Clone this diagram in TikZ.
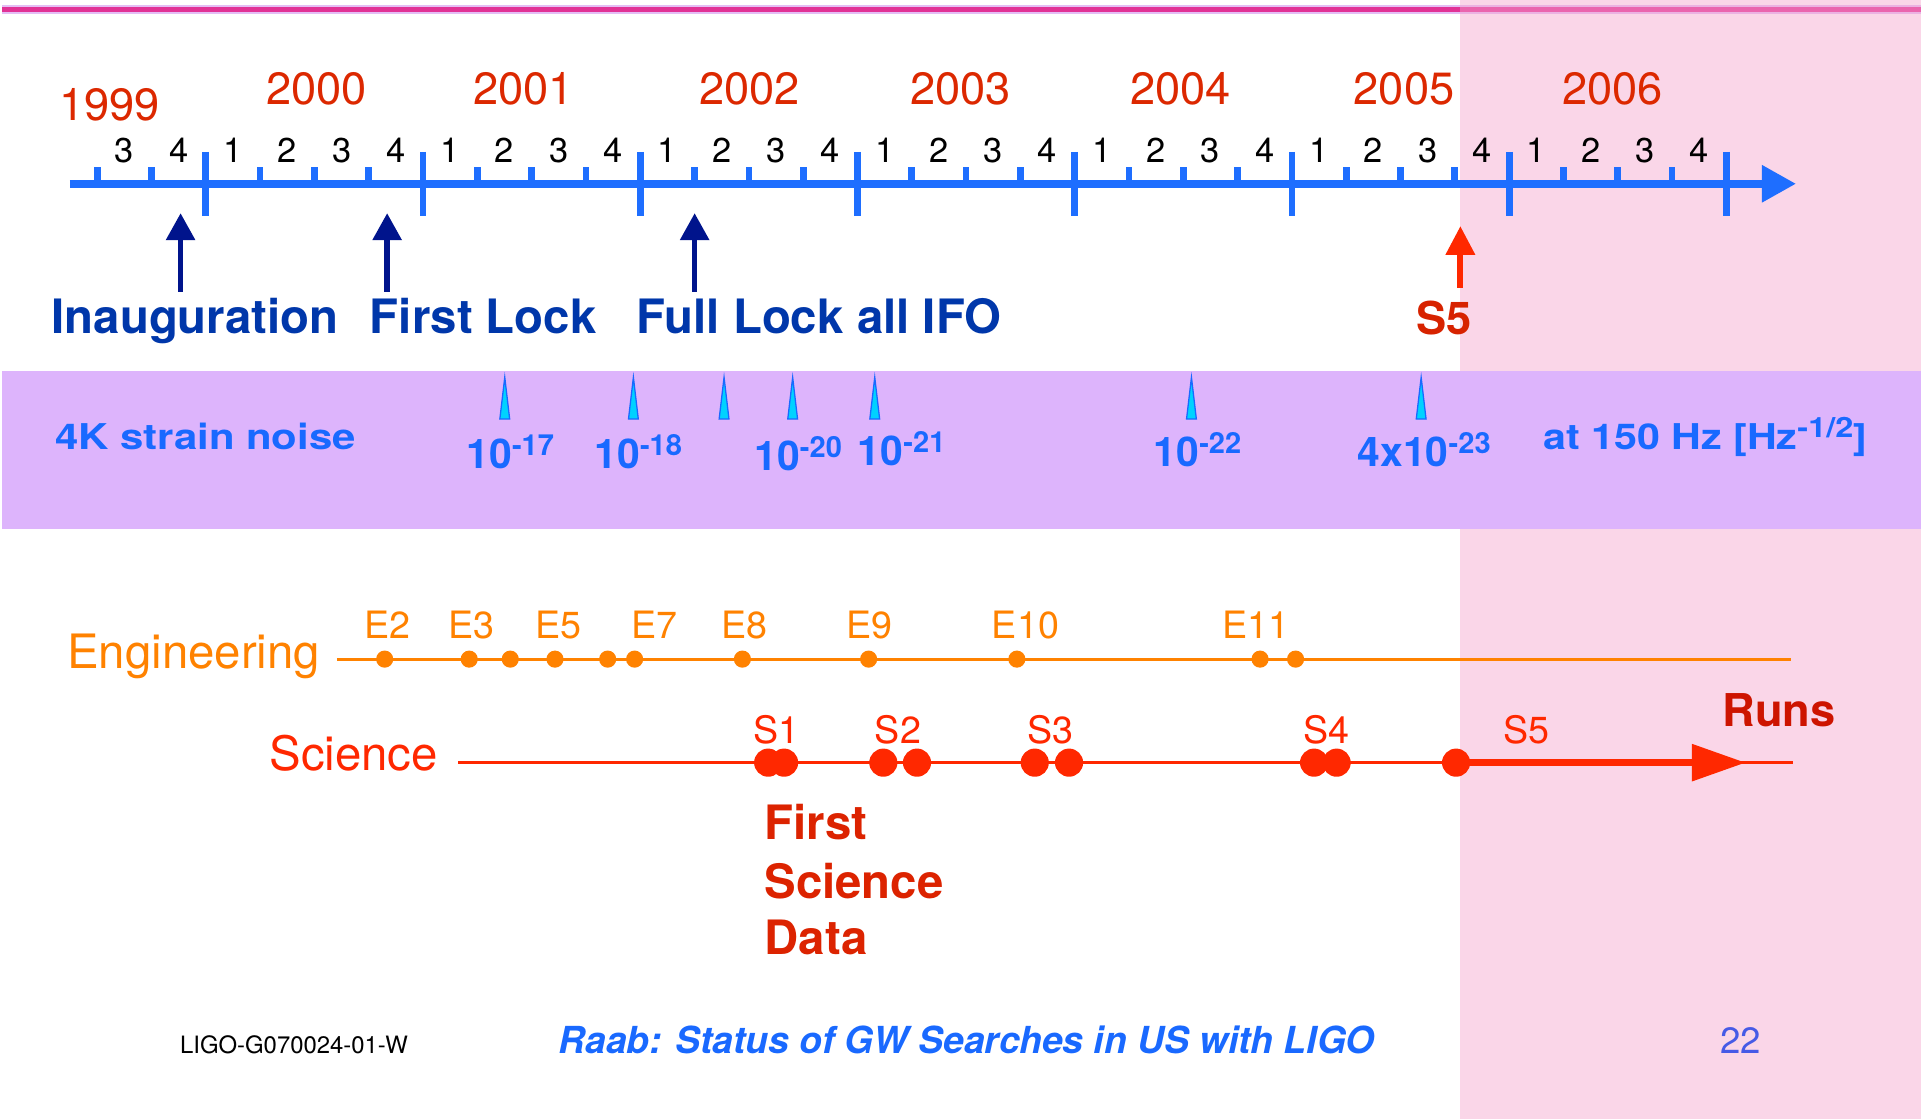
\documentclass[tikz,border=0pt]{standalone}
\usepackage{fontspec}
\setmainfont{TeX Gyre Heros}
\usepackage{graphicx}
\usetikzlibrary{arrows.meta}
\definecolor{tlblue}{RGB}{30,110,255}
\definecolor{yearred}{RGB}{220,40,0}
\definecolor{navyarrow}{RGB}{0,20,140}
\definecolor{navytext}{RGB}{0,55,170}
\definecolor{sfivearrow}{RGB}{255,40,0}
\definecolor{sfivetext}{RGB}{215,35,0}
\definecolor{bandpurple}{RGB}{221,180,252}
\definecolor{straintext}{RGB}{25,105,255}
\definecolor{spikefill}{RGB}{0,210,255}
\definecolor{engorange}{RGB}{255,130,0}
\definecolor{scired}{RGB}{255,40,0}
\definecolor{runsred}{RGB}{205,20,0}
\definecolor{fsdred}{RGB}{220,35,0}
\definecolor{footblue}{RGB}{25,105,255}
\definecolor{pagenum}{RGB}{70,90,230}
\definecolor{topmag}{RGB}{225,50,150}
\definecolor{tophalo}{RGB}{228,190,245}
\definecolor{shadepink}{RGB}{245,165,205}
\newcommand\myfs[1]{\fontsize{#1}{#1}\selectfont}
\newcommand\tenexp[1]{10\raisebox{6pt}{\myfs{13.5}-#1}}
\begin{document}
\begin{tikzpicture}[x=0.02cm,y=-0.02cm,
  txt/.style={inner sep=0pt,outer sep=0pt,anchor=base},
  yearlbl/.style={txt,text=yearred,font=\myfs{21}},
  qlbl/.style={txt,text=black,font=\myfs{16}},
  majortick/.style={draw=tlblue,line width=0.11cm},
  minortick/.style={draw=tlblue,line width=0.11cm},
  tlarrow/.style={draw=tlblue,line width=0.13cm,-{Triangle[length=0.56cm,width=0.58cm]}},
  navyarr/.style={draw=navyarrow,line width=0.088cm,-{Triangle[length=0.44cm,width=0.46cm]}},
  redarr/.style={draw=sfivearrow,line width=0.1cm,-{Triangle[length=0.47cm,width=0.46cm]}},
  eventlbl/.style={txt,text=navytext,font=\bfseries\myfs{22}},
  strainlbl/.style={txt,text=straintext,font=\bfseries\myfs{19}},
  spike/.style={draw=straintext,fill=spikefill,line width=0.6pt,line join=miter},
  elbl/.style={txt,text=engorange,font=\myfs{17.5}},
  slbl/.style={txt,text=scired,font=\myfs{17.5}},
  fsd/.style={txt,anchor=base west,text=fsdred,font=\bfseries\myfs{22}},
  runline/.style={line width=1.5pt}
]
\useasboundingbox[fill=white] (0,0) rectangle (1568,913);
% top rule
\draw[tophalo,line width=0.15cm] (2,7.5) -- (1568,7.5);
\draw[topmag,line width=0.08cm] (2,7.5) -- (1568,7.5);
% future shading
\fill[shadepink,opacity=0.45] (1192,0) rectangle (1568,913);
% strain band
\fill[bandpurple] (2,303) rectangle (1568,432);

% timeline
\coordinate (tlS) at (57,150);
\coordinate (tlE) at (1466,150);
\draw[tlarrow] (tlS) -- (tlE);
\foreach \k in {0,...,7}
  \draw[majortick] ({168+177.3*\k},124) -- ({168+177.3*\k},176);
\foreach \k in {0,...,6}
  \foreach \q in {1,2,3}
    \draw[minortick] ({168+177.3*(\k+\q/4)},150) -- ({168+177.3*(\k+\q/4)},136);
\foreach \q in {1,2}
  \draw[minortick] ({168-177.3*(\q/4)},150) -- ({168-177.3*(\q/4)},136);
% quarter labels
\node[qlbl] (q99c) at (101.5,133) {3};
\node[qlbl] (q99d) at (145.8,133) {4};
\foreach \k in {0,...,6}
  \foreach \q in {1,...,4}
    \node[qlbl] (q\k\q) at ({168+177.3*(\k+(\q-0.5)/4)},133) {\q};
% year labels
\node[yearlbl] (yr1999) at (89.5,98) {1999};
\foreach \yr/\cx in {2000/258.5,2001/427.5,2002/612,2003/784,2004/963.6,2005/1146,2006/1316}
  \node[yearlbl] (yr\yr) at (\cx,85) {\yr};

% milestone arrows
\node[eventlbl] (inaug) at (159.3,272.6) {Inauguration};
\node[eventlbl] (flock) at (394.5,272.6) {First Lock};
\node[eventlbl] (fulllock) at (668.5,272.6) {Full Lock all IFO};
\node[txt,text=sfivetext,font=\bfseries\myfs{21}] (sfivelbl) at (1179,273) {S5};
\coordinate (a1s) at (147.4,238); \coordinate (a1e) at (147.4,174);
\coordinate (a2s) at (316,238);   \coordinate (a2e) at (316,174);
\coordinate (a3s) at (567,238);   \coordinate (a3e) at (567,174);
\coordinate (a4s) at (1192,235);  \coordinate (a4e) at (1192,184.5);
\draw[navyarr] (a1s) -- (a1e);
\draw[navyarr] (a2s) -- (a2e);
\draw[navyarr] (a3s) -- (a3e);
\draw[redarr] (a4s) -- (a4e);

% strain noise band contents
\node[txt,anchor=base west,text=straintext,font=\bfseries\myfs{16.5}] (strainttl) at (45,367)
  {\scalebox{1.18}[1]{4K strain noise}};
\node[txt,anchor=base east,text=straintext,font=\bfseries\myfs{16.5}] (strainunit) at (1524,367)
  {\scalebox{1.16}[1]{at 150 Hz [Hz\raisebox{5.5pt}{\myfs{13}-1/2}]}};
\foreach \sx in {412,517,591,647,714,972.5,1160}
  \draw[spike] (\sx-4,342) -- (\sx,308) -- (\sx+4,342) -- cycle;
\node[strainlbl] (n17) at (416.5,382) {\tenexp{17}};
\node[strainlbl] (n18) at (521,382) {\tenexp{18}};
\node[strainlbl] (n20) at (651.5,384) {\tenexp{20}};
\node[strainlbl] (n21) at (736,380) {\tenexp{21}};
\node[strainlbl] (n22) at (977.5,381) {\tenexp{22}};
\node[strainlbl] (n23) at (1162.5,381) {4x\tenexp{23}};

% engineering runs
\node[txt,anchor=base west,text=engorange,font=\myfs{22}] (englbl) at (55,545.5) {Engineering};
\coordinate (engS) at (275,538);
\coordinate (engE) at (1462,538);
\draw[engorange,runline] (engS) -- (engE);
\foreach \ex in {314,383,416.5,453,496,518,606,709,830,1028.5,1057.5}
  \fill[engorange] (\ex,538) circle[radius=0.14cm];
\foreach \lab/\lx in {E2/316,E3/385,E5/456,E7/534,E8/607.5,E9/710,E10/837,E11/1025}
  \node[elbl] (lab\lab) at (\lx,521) {\lab};

% science runs
\node[txt,anchor=base west,text=scired,font=\myfs{22}] (scilbl) at (220,628.6) {Science};
\coordinate (sciS) at (374,622.5);
\coordinate (sciE) at (1463.5,622.5);
\draw[scired,runline] (sciS) -- (sciE);
\coordinate (sfS) at (1189,622.5);
\coordinate (sfE) at (1425,622.5);
\draw[scired,line width=0.12cm,-{Triangle[length=0.88cm,width=0.58cm]}] (sfS) -- (sfE);
\foreach \sxx in {627,640,721,748.5,844.6,872.6,1072.6,1091,1188.5}
  \fill[scired] (\sxx,622.5) circle[radius=0.23cm];
\foreach \lab/\lx in {S1/634,S2/733,S3/857.6,S4/1083,S5/1246}
  \node[slbl] (lab\lab) at (\lx,606.5) {\lab};
\node[txt,text=runsred,font=\bfseries\myfs{21}] (runs) at (1452,593) {Runs};
\node[fsd] (fsda) at (624,685) {First};
\node[fsd] (fsdb) at (624,733) {Science};
\node[fsd] (fsdc) at (624,779) {Data};

% footer
\node[txt,anchor=base west,text=black,font=\myfs{11.1}] (docid) at (147,860) {LIGO-G070024-01-W};
\node[txt,anchor=base west,text=footblue,font=\bfseries\itshape\myfs{17.3}] (foottitle) at (456,860)
  {Raab: Status of GW Searches in US with LIGO};
\node[txt,anchor=base west,text=pagenum,font=\myfs{17}] (pnum) at (1404,860) {22};
\end{tikzpicture}
\end{document}
